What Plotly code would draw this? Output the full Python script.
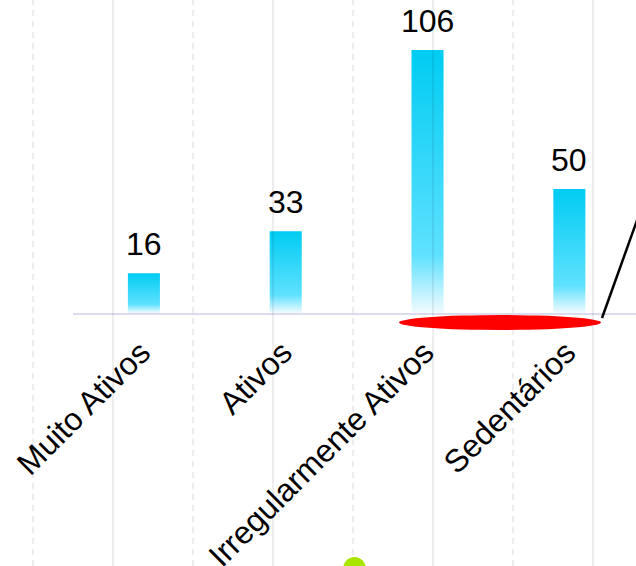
import plotly.graph_objects as go

categories = ["Muito Ativos", "Ativos", "Irregularmente Ativos", "Sedentários"]
values = [16, 33, 106, 50]

W, H = 636, 566
ML, MB = 73, 253
PW = W - ML
PH = H - MB

def px_x(p):
    return (p - ML) / PW

def px_y(p):
    return (PH - p) / PH

fig = go.Figure()

half = 0.113
grad = [[0, "#f2fbff"], [0.22, "#5fe1ff"], [1, "#00ccf2"]]
for i, v in enumerate(values):
    fig.add_trace(go.Scatter(
        x=[i - half, i + half, i + half, i - half, i - half],
        y=[0, 0, v, v, 0],
        mode="lines", fill="toself",
        line=dict(width=0, color="rgba(0,0,0,0)"),
        fillgradient=dict(type="vertical", colorscale=grad),
        hoverinfo="skip", showlegend=False,
    ))
    fig.add_annotation(x=i, y=v, text=str(v), showarrow=False, yanchor="bottom",
                       yshift=9, font=dict(size=32, color="#000000", family="Liberation Sans, Arial"))

shapes = []
for k in range(4):
    for p, dash in ((33 + 160 * k, "6px,5px"), (113 + 160 * k, "solid")):
        shapes.append(dict(type="line", xref="paper", yref="paper",
                           x0=px_x(p), x1=px_x(p), y0=px_y(H), y1=px_y(0),
                           line=dict(color="rgba(0,0,40,0.07)", width=2, dash=dash), layer="above"))
shapes.append(dict(type="circle", xref="paper", yref="paper",
                   x0=px_x(399), x1=px_x(601), y0=px_y(330), y1=px_y(315),
                   fillcolor="#ff0000", line=dict(width=0), layer="above"))
shapes.append(dict(type="line", xref="paper", yref="paper",
                   x0=px_x(602), x1=px_x(640), y0=px_y(318), y1=px_y(212),
                   line=dict(color="#000000", width=2.5), layer="above"))
shapes.append(dict(type="circle", xref="paper", yref="paper",
                   x0=px_x(343), x1=px_x(366), y0=px_y(581), y1=px_y(557),
                   fillcolor="#a8e600", line=dict(width=0), layer="above"))

fig.update_layout(
    width=W, height=H,
    margin=dict(l=ML, r=0, t=0, b=MB, autoexpand=False),
    paper_bgcolor="white", plot_bgcolor="white",
    shapes=shapes,
    font=dict(family="Liberation Sans, Arial", color="#000000"),
    xaxis=dict(range=[-0.5, 3.47], tickvals=list(range(len(categories))), ticktext=categories,
               tickangle=-45, tickfont=dict(size=32, color="#000000"), showgrid=False,
               zeroline=False, showline=True, linecolor="#dcdcee", linewidth=2,
               ticks="outside", ticklen=6, tickcolor="rgba(0,0,0,0)", ticklabelshift=-3,
               fixedrange=True, automargin=False),
    yaxis=dict(range=[0, PH / 2.48], visible=False, showgrid=False, zeroline=False,
               fixedrange=True, automargin=False),
)

fig.write_html("out.html", config={"displayModeBar": False},
               post_script="document.body.style.margin='0';document.body.style.overflow='hidden';")
